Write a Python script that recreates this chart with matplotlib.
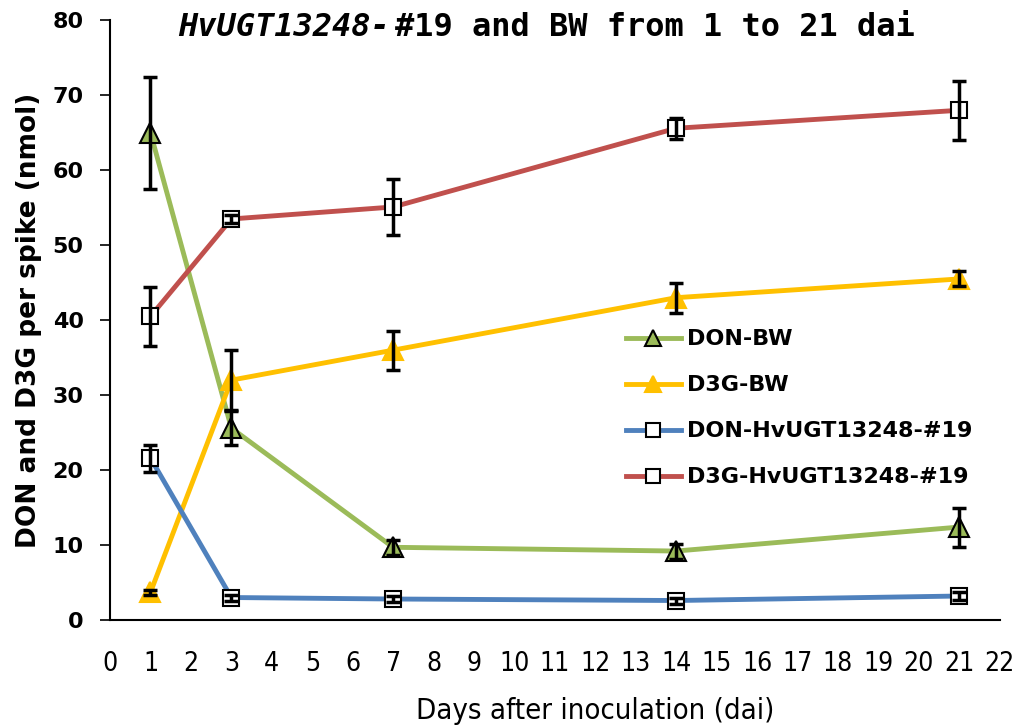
import matplotlib
matplotlib.use('Agg')
import matplotlib.pyplot as plt

# days after inoculation
days = [1, 3, 7, 14, 21]

# means (nmol per spike)
don_bw = [65.0, 25.6, 9.7, 9.2, 12.4]
d3g_bw = [3.7, 32.0, 36.0, 43.0, 45.5]
don_ugt = [21.6, 3.0, 2.8, 2.6, 3.2]
d3g_ugt = [40.5, 53.5, 55.1, 65.6, 68.0]

# standard errors
don_bw_err = [7.5, 2.3, 1.0, 1.0, 2.6]
d3g_bw_err = [0.3, 4.0, 2.6, 2.0, 1.0]
don_ugt_err = [1.8, 0.4, 0.4, 0.4, 0.5]
d3g_ugt_err = [3.9, 0.5, 3.7, 1.4, 3.9]

xticks = list(range(0, 23))
yticks = list(range(0, 90, 10))

fig = plt.figure(figsize=(10.19, 7.26), dpi=100)
ax = fig.add_axes([0.108, 0.146, 0.873, 0.826])

series = [
    ('DON-BW', don_bw, don_bw_err, '#9BBB59', '^', '#9BBB59', 'black', 14),
    ('D3G-BW', d3g_bw, d3g_bw_err, '#FFC000', '^', '#FFC000', '#FFC000', 14),
    ('DON-HvUGT13248-#19', don_ugt, don_ugt_err, '#4F81BD', 's', 'white', 'black', 12),
    ('D3G-HvUGT13248-#19', d3g_ugt, d3g_ugt_err, '#C0504D', 's', 'white', 'black', 12),
]

for name, vals, errs, col, mk, fc, ec, ms in series:
    ax.plot(days, vals, color=col, lw=3.5, marker=mk, ms=ms, mfc=fc, mec=ec,
            mew=1.5, label=name, zorder=3)
    ax.errorbar(days, vals, yerr=errs, fmt='none', ecolor='black', elinewidth=2.5,
                capsize=5, capthick=2.5, zorder=4)

narrow = dict(family='DejaVu Sans', fontstretch='condensed')

ax.set_xlim(0, 22)
ax.set_ylim(0, 80)
ax.set_xticks(xticks)
ax.set_yticks(yticks)
ax.set_xticklabels([str(t) for t in xticks], fontsize=19, **narrow)
ax.set_yticklabels([str(t) for t in yticks], fontweight='bold', fontsize=16,
                   family='DejaVu Sans')
ax.tick_params(axis='x', length=0, pad=22)
ax.tick_params(axis='y', length=7, width=1.2, direction='out', pad=12)
ax.spines['top'].set_visible(False)
ax.spines['right'].set_visible(False)
ax.spines['left'].set_linewidth(1.5)
ax.spines['bottom'].set_linewidth(1.5)

ax.set_xlabel('Days after inoculation (dai)', fontsize=21, **narrow)
ax.xaxis.set_label_coords(0.545, -0.128)
ax.set_ylabel('DON and D3G per spike (nmol)', fontweight='bold', fontsize=19,
              family='DejaVu Sans')
ax.yaxis.set_label_coords(-0.076, 0.5)

leg = ax.legend(loc='upper left', bbox_to_anchor=(0.557, 0.518), frameon=False,
                handlelength=2.5, labelspacing=1.17, handletextpad=0.25, markerscale=0.8,
                prop={'weight': 'bold', 'size': 16})

# title: italic gene name followed by regular text
fig.text(0.3825, 0.962, 'HvUGT13248-', style='italic', fontsize=23, ha='right', va='center',
         family='DejaVu Sans Mono', fontweight='bold')
fig.text(0.3874, 0.962, '#19 and BW from 1 to 21 dai', fontsize=23, ha='left', va='center',
         family='DejaVu Sans Mono', fontweight='bold')

fig.savefig('out.png', dpi=100)
